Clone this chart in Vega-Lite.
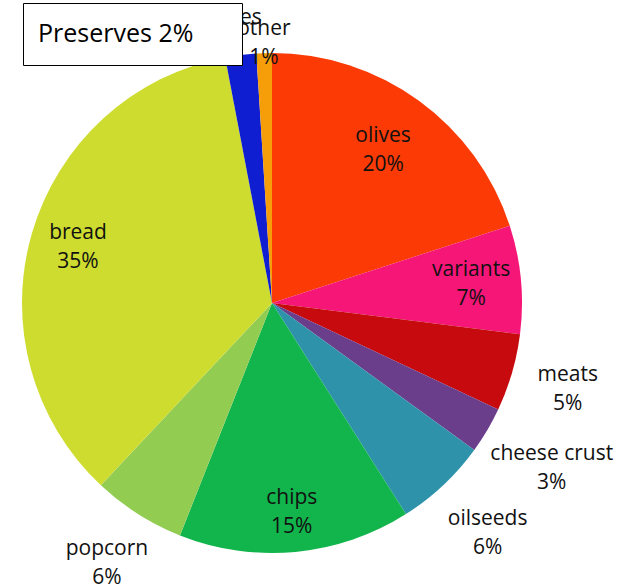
{
  "$schema": "https://vega.github.io/schema/vega-lite/v6.json",
  "width": 544,
  "height": 546,
  "autosize": "none",
  "padding": {"left": 0, "top": 30, "right": 86, "bottom": 11},
  "background": "white",
  "config": {"view": {"stroke": null}},
  "data": {
    "values": [
      {"name": "olives", "pct": 20, "idx": 1, "label": "olives\n20%"},
      {"name": "variants", "pct": 7, "idx": 2, "label": "variants\n7%"},
      {"name": "meats", "pct": 5, "idx": 3, "label": "meats\n5%"},
      {"name": "cheese crust", "pct": 3, "idx": 4, "label": "cheese crust\n3%"},
      {"name": "oilseeds", "pct": 6, "idx": 5, "label": "oilseeds\n6%"},
      {"name": "chips", "pct": 15, "idx": 6, "label": "chips\n15%"},
      {"name": "popcorn", "pct": 6, "idx": 7, "label": "popcorn\n6%"},
      {"name": "bread", "pct": 35, "idx": 8, "label": "bread\n35%"},
      {"name": "preserves", "pct": 2, "idx": 9, "label": "preserves\n2%"},
      {"name": "other", "pct": 1, "idx": 10, "label": "other\n1%"}
    ]
  },
  "encoding": {
    "theta": {"field": "pct", "type": "quantitative", "stack": true},
    "order": {"field": "idx", "type": "quantitative"}
  },
  "layer": [
    {
      "mark": {"type": "arc", "outerRadius": 250},
      "encoding": {
        "color": {
          "field": "name",
          "type": "nominal",
          "scale": {
            "domain": ["olives", "variants", "meats", "cheese crust", "oilseeds", "chips", "popcorn", "bread", "preserves", "other"],
            "range": ["#fb3a06", "#f51678", "#c60a0e", "#6b3e8c", "#2e93aa", "#12b44c", "#92cd52", "#cedc30", "#0e1ed0", "#f59e0a"]
          },
          "legend": null
        }
      }
    },
    {
      "mark": {
        "type": "text",
        "font": "Open Sans",
        "fontSize": 21,
        "lineBreak": "\n",
        "lineHeight": 29,
        "align": "center",
        "baseline": "middle",
        "color": "#111111",
        "dy": -14,
        "dx": {"expr": "datum.name === 'preserves' ? -24 : 0"},
        "radius": {"expr": "({'olives': 189, 'variants': 200, 'meats': 308, 'cheese crust': 325, 'oilseeds': 315, 'chips': 210, 'popcorn': 308, 'bread': 202, 'preserves': 273, 'other': 260})[datum.name]"}
      },
      "encoding": {
        "text": {"field": "label", "type": "nominal"}
      }
    },
    {
      "transform": [{"filter": "datum.name === 'preserves'"}],
      "mark": {"type": "arc", "outerRadius": 10, "opacity": 0},
      "encoding": {
        "color": {
          "field": "name",
          "type": "nominal",
          "scale": {"range": ["#ffffff"]},
          "legend": {
            "orient": "none",
            "legendX": 23,
            "legendY": -27,
            "title": "Preserves 2%",
            "titleOrient": "left",
            "titleAnchor": "middle",
            "titleBaseline": "middle",
            "titleFont": "Open Sans",
            "titleFontSize": 25,
            "titleFontWeight": "normal",
            "titleColor": "#000000",
            "titlePadding": 0,
            "labelExpr": "''",
            "labelOffset": 0,
            "symbolOpacity": 0,
            "symbolSize": 961,
            "strokeColor": "#000000",
            "fillColor": "#ffffff",
            "padding": 15,
            "zindex": 1
          }
        }
      }
    }
  ],
  "resolve": {"scale": {"color": "independent"}, "legend": {"color": "independent"}}
}
